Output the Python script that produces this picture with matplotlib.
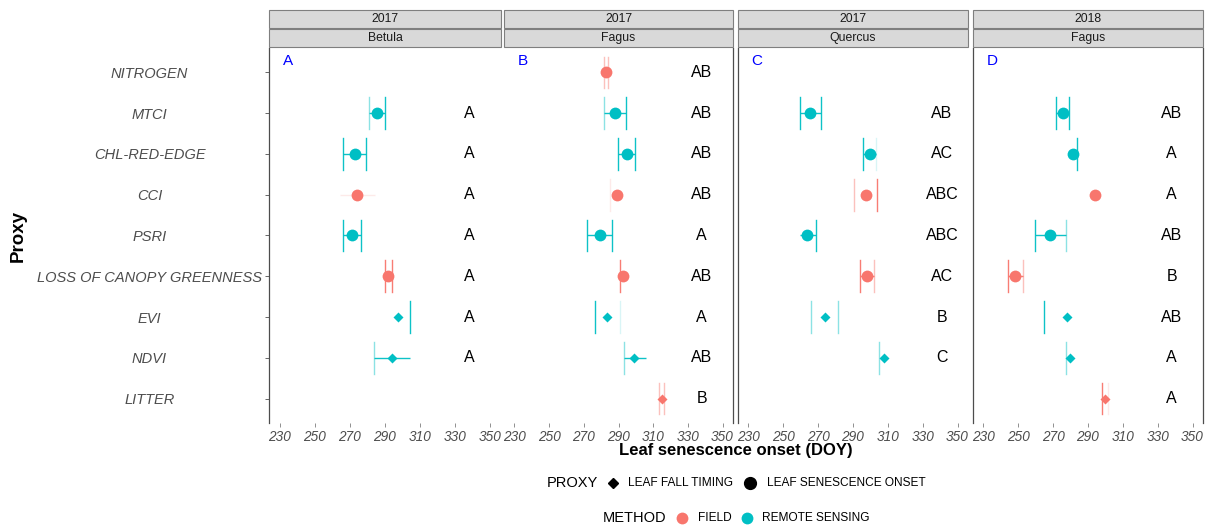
import matplotlib.pyplot as plt
from matplotlib.patches import Rectangle
from matplotlib.lines import Line2D

plt.rcParams['font.family'] = ['Liberation Sans', 'DejaVu Sans']

''' categories '''
proxies = ['NITROGEN', 'MTCI', 'CHL-RED-EDGE', 'CCI', 'PSRI',
           'LOSS OF CANOPY GREENNESS', 'EVI', 'NDVI', 'LITTER']
field_proxies = ['NITROGEN', 'CCI', 'LOSS OF CANOPY GREENNESS', 'LITTER']
fall_proxies = ['EVI', 'NDVI', 'LITTER']

years = ['2017', '2017', '2017', '2018']
species = ['Betula', 'Fagus', 'Quercus', 'Fagus']
panel_tags = ['A', 'B', 'C', 'D']
x_ticks = [230, 250, 270, 290, 310, 330, 350]

''' Betula 2017 '''
bet17_proxy = ['MTCI', 'CHL-RED-EDGE', 'CCI', 'PSRI', 'LOSS OF CANOPY GREENNESS', 'EVI', 'NDVI']
bet17_doy = [285.2, 272.7, 274.2, 271.1, 291.9, 297.2, 293.8]
bet17_lo = [280.7, 266.0, 264.5, 266.0, 290.0, 297.2, 283.5]
bet17_hi = [290.0, 279.0, 284.1, 276.5, 294.0, 304.1, 304.1]
bet17_ends = ['233', '333', '001', '333', '333', '030', '203']  # lo cap / hi cap / bar visibility
bet17_sig = ['A', 'A', 'A', 'A', 'A', 'A', 'A']

''' Fagus 2017 '''
fag17_proxy = proxies
fag17_doy = [283.0, 287.9, 294.8, 289.0, 279.1, 292.5, 283.3, 299.1, 315.0]
fag17_lo = [281.6, 281.6, 289.8, 285.2, 271.9, 290.8, 276.5, 293.0, 313.6]
fag17_hi = [284.1, 294.4, 299.7, 289.0, 286.2, 292.5, 290.8, 305.8, 316.3]
fag17_ends = ['223', '233', '333', '100', '333', '300', '310', '203', '223']
fag17_sig = ['AB', 'AB', 'AB', 'AB', 'A', 'AB', 'A', 'AB', 'B']

''' Quercus 2017 '''
que17_proxy = ['MTCI', 'CHL-RED-EDGE', 'CCI', 'PSRI', 'LOSS OF CANOPY GREENNESS', 'EVI', 'NDVI']
que17_doy = [265.6, 299.5, 297.4, 263.7, 298.0, 274.0, 307.7]
que17_lo = [259.3, 295.9, 290.8, 259.3, 294.2, 266.0, 304.9]
que17_hi = [271.9, 303.3, 303.5, 268.5, 302.0, 281.4, 307.7]
que17_ends = ['333', '313', '230', '033', '323', '220', '200']
que17_sig = ['AB', 'AC', 'ABC', 'ABC', 'AC', 'B', 'C']

''' Fagus 2018 '''
fag18_proxy = ['MTCI', 'CHL-RED-EDGE', 'CCI', 'PSRI', 'LOSS OF CANOPY GREENNESS', 'EVI', 'NDVI', 'LITTER']
fag18_doy = [275.5, 281.6, 294.0, 268.3, 248.1, 277.8, 279.7, 299.7]
fag18_lo = [271.5, 281.6, 294.0, 259.3, 244.1, 264.5, 277.4, 298.0]
fag18_hi = [279.3, 283.9, 294.0, 277.4, 252.5, 277.8, 279.7, 301.2]
fag18_ends = ['333', '033', '000', '323', '323', '300', '200', '310']
fag18_sig = ['AB', 'A', 'A', 'AB', 'B', 'AB', 'A', 'A']

panels = [
    (bet17_proxy, bet17_doy, bet17_lo, bet17_hi, bet17_ends, bet17_sig),
    (fag17_proxy, fag17_doy, fag17_lo, fag17_hi, fag17_ends, fag17_sig),
    (que17_proxy, que17_doy, que17_lo, que17_hi, que17_ends, que17_sig),
    (fag18_proxy, fag18_doy, fag18_lo, fag18_hi, fag18_ends, fag18_sig),
]

RED = '#F8766D'
CYAN = '#00BFC4'
alpha_map = {'0': 0, '1': 0.15, '2': 0.45, '3': 0.95}
ypos = {p: len(proxies) - i for i, p in enumerate(proxies)}

W, H = 1216, 532
fig = plt.figure(figsize=(W / 100, H / 100), dpi=100)

# panel edges in pixels
edges = [(269, 501), (504, 733), (738, 968), (973, 1203)]
top, bot = 48, 423
sig_x = [338, 338, 341, 338]
spine_sides = [('left',), ('right',), ('left',), ('left', 'right')]

cap = 0.39
for k, (x0, x1) in enumerate(edges):
    ax = fig.add_axes([x0 / W, (H - bot) / H, (x1 - x0) / W, (bot - top) / H])
    pr, doy, lo, hi, ends, sig = panels[k]
    for p, d, l, h, e, s in zip(pr, doy, lo, hi, ends, sig):
        y = ypos[p]
        col = RED if p in field_proxies else CYAN
        a_lo, a_hi, a_bar = (alpha_map[c] for c in e)
        if a_bar:
            ax.plot([l, h], [y, y], color=col, alpha=a_bar, lw=1.0, solid_capstyle='butt')
        if a_lo:
            ax.plot([l, l], [y - cap, y + cap], color=col, alpha=a_lo, lw=1.0)
        if a_hi:
            ax.plot([h, h], [y - cap, y + cap], color=col, alpha=a_hi, lw=1.0)
        if p in fall_proxies:
            ax.plot(d, y, marker='D', ms=5.6, color=col, mec='none', zorder=3)
        else:
            ax.plot(d, y, marker='o', ms=8.5, color=col, mec='none', zorder=3)
        ax.text(sig_x[k], y, s, ha='center', va='center', fontsize=11.5, color='black')
    ax.text(235, 9.28, panel_tags[k], ha='center', va='center', fontsize=11, color='blue')

    ax.set_xlim(224, 356)
    ax.set_ylim(0.4, 9.6)
    ax.set_xticks(x_ticks)
    ax.set_xticklabels([str(t) for t in x_ticks], fontsize=9.8, style='italic', color='#4D4D4D')
    ax.tick_params(axis='x', length=3, width=0.6, color='#7F7F7F', pad=2)
    for side in ['left', 'right', 'top', 'bottom']:
        ax.spines[side].set_visible(side in spine_sides[k])
        ax.spines[side].set_color('#4D4D4D')
        ax.spines[side].set_linewidth(0.9)
    ax.set_yticks([ypos[p] for p in proxies])
    if k == 0:
        ax.set_yticklabels(proxies, fontsize=10.5, style='italic', color='#4D4D4D', ha='center')
        ax.tick_params(axis='y', length=3, width=0.6, color='#4D4D4D', pad=83)
    else:
        ax.tick_params(axis='y', length=0, labelleft=False)

    # facet strips
    for (s0, s1), txt in [((10, 28), years[k]), ((29, 47), species[k])]:
        fig.patches.append(Rectangle((x0 / W, (H - s1) / H), (x1 - x0) / W, (s1 - s0) / H,
                                     transform=fig.transFigure, facecolor='#D9D9D9',
                                     edgecolor='#7F7F7F', linewidth=0.8))
        fig.text((x0 + x1) / 2 / W, (H - (s0 + s1) / 2) / H, txt, ha='center', va='center',
                 fontsize=8.8, color='#1A1A1A')

fig.text(18 / W, (H - 236) / H, 'Proxy', rotation=90, ha='center', va='center',
         fontsize=13.5, fontweight='bold')
fig.text(736 / W, (H - 451) / H, 'Leaf senescence onset (DOY)', ha='center', va='center',
         fontsize=12, fontweight='bold')

# legends
def fpx(x, y):
    return x / W, (H - y) / H

fig.text(*fpx(547, 483), 'PROXY', ha='left', va='center', fontsize=10.5)
fig.add_artist(Line2D(*zip(fpx(613, 483)), marker='D', ms=5.6, color='black', transform=fig.transFigure))
fig.text(*fpx(628, 483), 'LEAF FALL TIMING', ha='left', va='center', fontsize=8.6)
fig.add_artist(Line2D(*zip(fpx(750, 483)), marker='o', ms=8.5, color='black', transform=fig.transFigure))
fig.text(*fpx(767, 483), 'LEAF SENESCENCE ONSET', ha='left', va='center', fontsize=8.6)

fig.text(*fpx(603, 518), 'METHOD', ha='left', va='center', fontsize=10.5)
fig.add_artist(Line2D(*zip(fpx(682, 518)), marker='o', ms=8.5, color=RED, mec='none', transform=fig.transFigure))
fig.text(*fpx(698, 518), 'FIELD', ha='left', va='center', fontsize=8.6)
fig.add_artist(Line2D(*zip(fpx(747, 518)), marker='o', ms=8.5, color=CYAN, mec='none', transform=fig.transFigure))
fig.text(*fpx(762, 518), 'REMOTE SENSING', ha='left', va='center', fontsize=8.6)

fig.savefig('out.png', dpi=100, facecolor='white')
